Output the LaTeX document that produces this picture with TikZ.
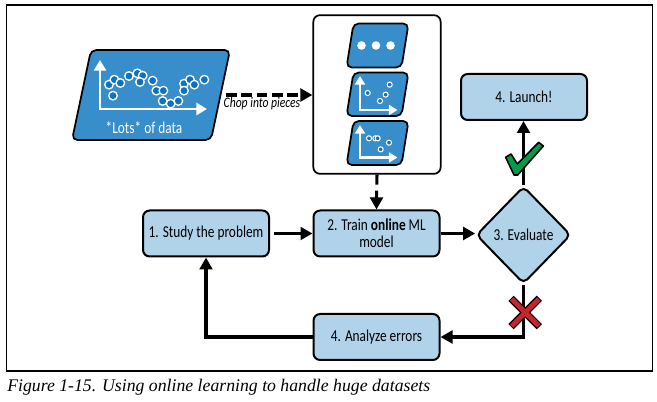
\documentclass[tikz,border=0pt]{standalone}
\usepackage{fontspec}
\setmainfont{Liberation Serif}
\newfontfamily\lab[FakeStretch=0.8]{Carlito}
\usetikzlibrary{shapes.geometric,arrows.meta}
\definecolor{boxblue}{HTML}{B0D3EA}
\definecolor{dkblue}{HTML}{388DCB}
\definecolor{dotblue}{HTML}{0A72BE}
\definecolor{okgreen}{HTML}{009B4D}
\definecolor{nored}{HTML}{C1272D}
\tikzset{
  lightbox/.style={draw=black,line width=1.5pt,fill=boxblue,rounded corners=5pt,minimum width=94.5pt,minimum height=34.5pt,inner sep=1pt,align=center,font=\lab\fontsize{12.5pt}{12.5pt}\selectfont,anchor=center},
  conn/.style={draw=black,line width=2.3pt,-{Triangle[length=9pt,width=9.5pt]}},
  plain/.style={draw=black,line width=2.3pt},
  para/.style={draw=black,line width=1.3pt,fill=dkblue,rounded corners=4pt},
  axisw/.style={draw=white,line width=2pt,{Triangle[length=8pt,width=9pt]}-{Triangle[length=8pt,width=9pt]}},
  ring/.style={circle,draw=white,fill=dotblue,line width=1pt,minimum size=6.4pt,inner sep=0pt},
  ringsm/.style={circle,draw=white,fill=dotblue,line width=.8pt,minimum size=3.8pt,inner sep=0pt},
}
\begin{document}
\begin{tikzpicture}[x=0.75pt,y=-0.75pt]
\useasboundingbox (0,0) rectangle (657,402);
\fill[white] (0,0) rectangle (657,402);
\draw[black,line width=0.9pt] (6.5,5) rectangle (652.5,371);
\node[anchor=west,inner sep=0pt,font=\itshape\fontsize{13.3pt}{15pt}\selectfont] (cap) at (7,387) {Figure 1-15. Using online learning to handle huge datasets};

% big data parallelogram
\path[para] (91,50) -- (230,50) -- (211,140) -- (72,140) -- cycle;
\coordinate (dataout) at (226,95);
\draw[axisw] (100,60) -- (100,109) -- (207,109);
\foreach \a/\b in {177/224,193/209,211/219,189/257,237/198,262/190,278/197,270/216,308/212,319/242,340/242,338/273,362/281,385/273,402/221,420/209,433/224,402/242,463/209}{
  \node[ring] at ({50+\a/3},{10+\b/3}) {};
}
\node[text=white,inner sep=0pt,font=\lab\fontsize{12.5pt}{12pt}\selectfont] (lots) at (144,128) {*Lots* of data};

% pieces box
\node[draw=black,line width=1.3pt,fill=white,rounded corners=5pt,minimum width=95.5pt,minimum height=119pt,inner sep=0pt] (pieces) at (377,94.5) {};
\path[para] (353.5,23.5) -- (408.5,23.5) -- (401.5,67.5) -- (346.5,67.5) -- cycle;
\foreach \x in {361.5,376,390.5}{\fill[white] (\x,45.5) circle (4.3);}
\path[para] (353.5,72.5) -- (408.5,72.5) -- (401.5,116) -- (346.5,116) -- cycle;
\draw[axisw,line width=1.6pt,{Triangle[length=6.5pt,width=7.5pt]}-{Triangle[length=6.5pt,width=7.5pt]}] (360,76) -- (360,110) -- (397.5,110);
\foreach \a/\b in {203/249,240/273,257/254,269/224}{\node[ringsm] at ({300+\a/3},{10+\b/3}) {};}
\path[para] (353.5,121) -- (408.5,121) -- (401.5,165) -- (346.5,165) -- cycle;
\draw[axisw,line width=1.6pt,{Triangle[length=6.5pt,width=7.5pt]}-{Triangle[length=6.5pt,width=7.5pt]}] (360,125) -- (360,157.5) -- (397.5,157.5);
\foreach \a/\b in {207/385,226/385,233/385,242/418,267/398}{\node[ringsm] at ({300+\a/3},{10+\b/3}) {};}

% flow boxes
\node[lightbox] (study) at (206,233.5) {1. Study the problem};
\node[lightbox] (train) at (376.5,233.5) {2. Train \textbf{online} ML\\model};
\node[lightbox] (analyze) at (376.5,337) {4. Analyze errors};
\node[lightbox] (launch) at (524,97) {4. Launch!};
\node[diamond,draw=black,line width=1.5pt,fill=boxblue,rounded corners=4pt,minimum width=71pt,minimum height=73pt,inner sep=0pt,font=\lab\fontsize{12.5pt}{12.5pt}\selectfont] (eval) at (523.5,235) {3. Evaluate};

% connectors
\draw[conn,dash pattern=on 8pt off 3.5pt] (dataout) -- (pieces.west |- dataout);
\node[inner sep=0pt,font=\lab\itshape\fontsize{10.9pt}{11pt}\selectfont] (chop) at (262,104) {Chop into pieces};
\draw[plain,dash pattern=on 7.5pt off 4.5pt] (pieces.south) -- ([yshift=9pt]train.north);
\draw[conn] ([yshift=10pt]train.north) -- (train.north);
\draw[conn] (274,233.5) -- (train.west);
\draw[conn] (train.east) -- (eval.west |- train.east);
\draw[conn] (eval.north) -- (eval.north |- launch.south);
\coordinate (turn) at (eval.south |- analyze.east);
\draw[conn] (eval.south) -- (turn) -- (analyze.east);
\draw[conn] (analyze.west) -| (study.south);

% check
\begin{scope}[shift={(440,60)},x=.25pt,y=-.25pt]
\path[draw=black,line width=1.2pt,fill=okgreen,line join=round] (197,292) -- (213,282) -- (232,312) -- (296,247) -- (310,258) -- (233,345) -- (222,345) -- cycle;
\end{scope}
% cross
\begin{scope}[shift={(440,60)},x=.25pt,y=-.25pt]
\draw[black,line width=5.6pt] (213,715) -- (298,800) (298,715) -- (213,800);
\draw[nored,line width=3.6pt] (215,717) -- (296,798) (296,717) -- (215,798);
\end{scope}
\end{tikzpicture}
\end{document}
